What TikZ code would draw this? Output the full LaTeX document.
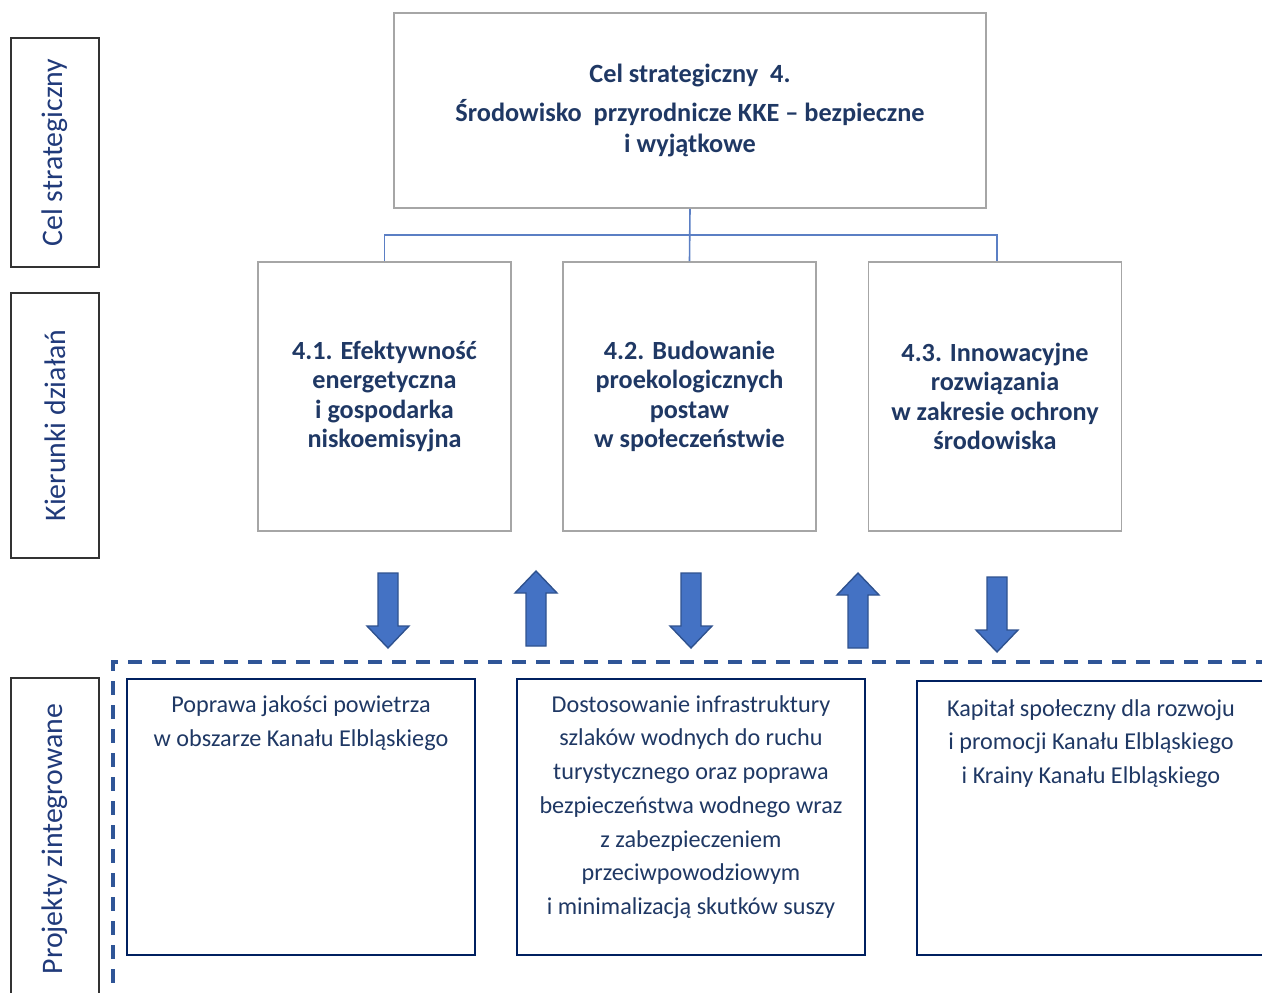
\documentclass[tikz,border=0pt]{standalone}
\usepackage{fontspec}
\setmainfont{Carlito}
\definecolor{navytext}{HTML}{1F3864}
\definecolor{navybox}{HTML}{002060}
\definecolor{lbltext}{HTML}{203A7A}
\definecolor{arrfill}{HTML}{4472C4}
\definecolor{arrdraw}{HTML}{2F528F}
\definecolor{dashcol}{HTML}{2F5597}
\definecolor{greybox}{HTML}{A6A6A6}
\definecolor{conn}{HTML}{5B7FC4}
\tikzset{
  topbox/.style={draw=greybox, line width=1.6pt, minimum width=592pt, minimum height=195pt, inner sep=0pt,
    align=center, text=navytext, font=\bfseries\fontsize{26.3}{31}\selectfont},
  midbox/.style={draw=greybox, line width=1.6pt, minimum width=253pt, minimum height=269pt, inner sep=0pt,
    align=center, text=navytext, font=\bfseries\fontsize{26.2}{29.4}\selectfont},
  lblbox/.style={draw=black!80, line width=1.3pt, rotate=90, minimum height=88pt, inner sep=0pt,
    text=lbltext, font=\fontsize{29.8}{32}\selectfont},
  projbox/.style={draw=navybox, line width=2.8pt, minimum width=348pt, minimum height=276pt, inner sep=0pt},
  projtext/.style={align=center, text=navytext, inner sep=0pt, font=\fontsize{24.2}{33.7}\selectfont},
  connline/.style={draw=conn, line width=1.6pt},
  blockarrow/.style={fill=arrfill, draw=arrdraw, line width=1.4pt, line join=miter},
  dashline/.style={draw=dashcol, line width=3.6pt, dash pattern=on 14pt off 10pt},
  pics/downarrow/.style={code={\path[blockarrow] (-10,0) -- (10,0) -- (10,53) -- (21,53) -- (0,75) -- (-21,53) -- (-10,53) -- cycle;}},
  pics/uparrow/.style={code={\path[blockarrow] (-10,75) -- (10,75) -- (10,22) -- (21,22) -- (0,0) -- (-21,22) -- (-10,22) -- cycle;}}
}
\begin{document}
\begin{tikzpicture}[x=1pt, y=-1pt]
\useasboundingbox (0,0) rectangle (1262,993);
\clip (0,0) rectangle (1262,993);
% left labels
\node[lblbox, minimum width=229pt] (l1) at (55,152.5) {Cel strategiczny};
\node[lblbox, minimum width=265pt] (l2) at (55,425.5) {Kierunki działań};
\node[lblbox, minimum width=322pt] (l3) at (55,839) {Projekty zintegrowane};
% top box
\node[topbox] (top) at (690,110.5) {Cel strategiczny\ \ 4.\\[8pt]Środowisko\ \ przyrodnicze KKE -- bezpieczne\\i wyjątkowe};
% middle boxes
\node[midbox] (m1) at (384.5,396.5) {4.1. Efektywność\\energetyczna\\i gospodarka\\niskoemisyjna};
\node[midbox] (m2) at (689.5,396.5) {4.2. Budowanie\\proekologicznych\\postaw\\w społeczeństwie};
\node[midbox] (m3) at (995,396.5) {4.3. Innowacyjne\\rozwiązania\\w zakresie ochrony\\środowiska};
% connectors
\coordinate (m3top) at ([xshift=2pt]m3.north);
\draw[connline] (top.south) -- (m2.north);
\draw[connline] (m1.north) -- ++(0,-26) -| (m3top);
% block arrows
\pic at (388,573) {downarrow};
\pic at (536,571) {uparrow};
\pic at (691,573) {downarrow};
\pic at (858,573) {uparrow};
\pic at (997,577) {downarrow};
% dashed frame
\coordinate (dtr) at (1270,662);
\coordinate (dtl) at (113,662);
\coordinate (dbl) at (113,1000);
\draw[dashline] (dtr) -- (dtl) -- (dbl);
% project boxes
\node[projbox] (b1) at (301,817) {};
\node[projbox] (b2) at (691,817) {};
\node[projbox, minimum height=274pt] (b3) at (1091,818) {};
\node[projtext] (t1) at (301,723.5) {Poprawa jakości powietrza\\w obszarze Kanału Elbląskiego};
\node[projtext] (t2) at (691,807) {Dostosowanie infrastruktury\\szlaków wodnych do ruchu\\turystycznego oraz poprawa\\bezpieczeństwa wodnego wraz\\z zabezpieczeniem\\przeciwpowodziowym\\i minimalizacją skutków suszy};
\node[projtext] (t3) at (1091,743.5) {Kapitał społeczny dla rozwoju\\i promocji Kanału Elbląskiego\\i Krainy Kanału Elbląskiego};
\end{tikzpicture}
\end{document}
